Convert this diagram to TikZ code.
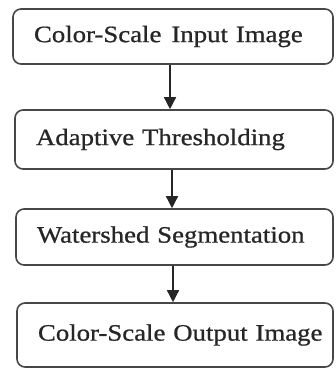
\documentclass[tikz,border=0pt]{standalone}
\usepackage{fontspec}
\setmainfont[FakeStretch=1.14,FakeBold=0.8]{Liberation Serif}
\usetikzlibrary{arrows.meta,calc}
\definecolor{edge}{HTML}{474747}
\definecolor{ink}{HTML}{262626}
\begin{document}
\begin{tikzpicture}[x=1pt,y=-1pt,
  stepbox/.style={draw=edge,line width=1.6pt,rounded corners=8pt,
    inner xsep=21pt,inner ysep=0pt,align=left,text=ink,
    font=\fontsize{23.5}{26}\selectfont},
  arr/.style={draw=ink,line width=1.5pt,-{Triangle[length=12pt,width=12pt]}}]
\useasboundingbox (0,0) rectangle (336,369);
\node[stepbox,minimum height=55pt,text width=278pt] (b1) at (173,36.5) {Color-Scale\hspace{10pt}Input Image};
\node[stepbox,minimum height=59pt,text width=276pt] (b2) at (174,139.5) {Adaptive Thresholding};
\node[stepbox,minimum height=56pt,text width=275pt] (b3) at (174.5,237) {Watershed Segmentation};
\node[stepbox,minimum height=64pt,text width=274pt] (b4) at (175,335) {\raisebox{4pt}{Color-Scale\ Output Image}};
\draw[arr] ([xshift=-3pt]b1.south) -- ([xshift=-3pt]b1.south |- b2.north);
\draw[arr] ([xshift=-2pt]b2.south) -- ([xshift=-2pt]b2.south |- b3.north);
\draw[arr] ([xshift=-1.5pt]b3.south) -- ([xshift=-1.5pt]b3.south |- b4.north);
\end{tikzpicture}
\end{document}
